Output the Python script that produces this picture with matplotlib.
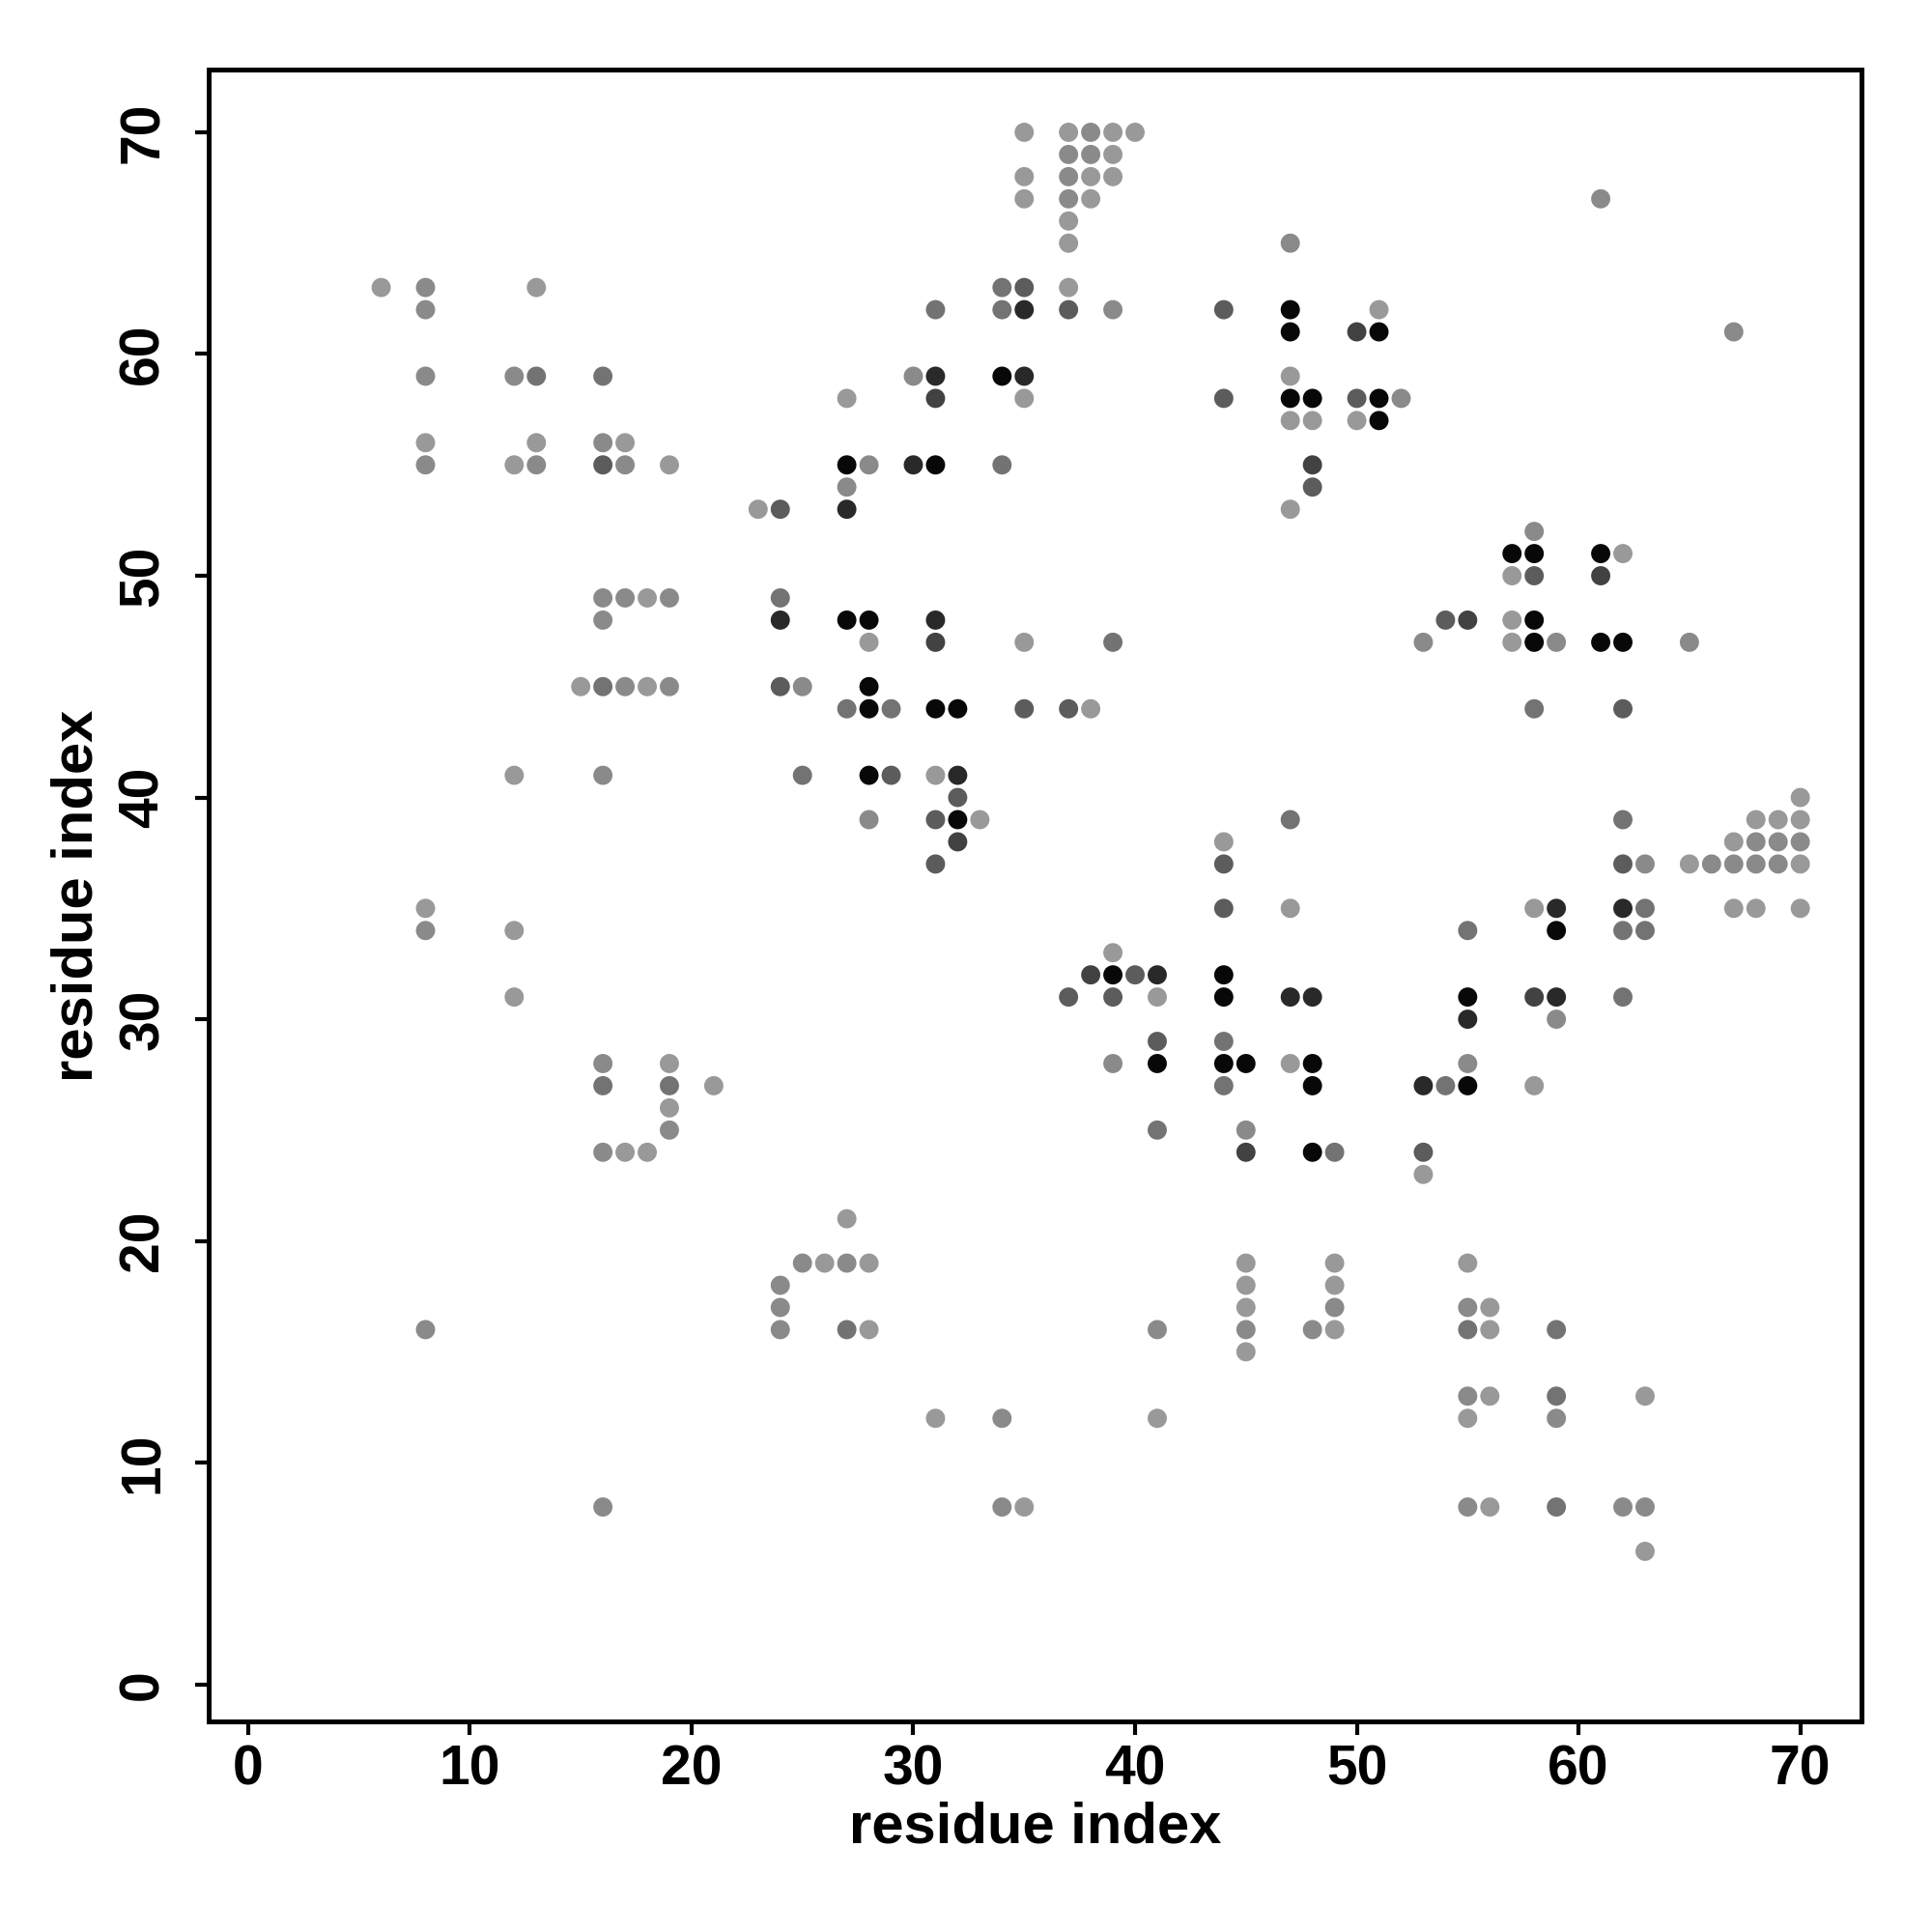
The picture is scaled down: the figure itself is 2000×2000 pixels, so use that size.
import matplotlib
matplotlib.use("Agg")
import matplotlib.pyplot as plt
import numpy as np

# contact level: 1 = lightest ... 7 = black
# each row: residue j (y) -> list of (residue i, level)
rows = {
    70: [(35, 1), (37, 1), (38, 2), (39, 1), (40, 1)],
    69: [(37, 2), (38, 2), (39, 1)],
    68: [(35, 1), (37, 2), (38, 1), (39, 1)],
    67: [(35, 1), (37, 2), (38, 1), (61, 2)],
    66: [(37, 1)],
    65: [(37, 1), (47, 2)],
    63: [(6, 1), (8, 2), (13, 1), (34, 3), (35, 4), (37, 1)],
    62: [(8, 2), (31, 3), (34, 3), (35, 6), (37, 4), (39, 2), (44, 4), (47, 7), (51, 1)],
    61: [(47, 7), (50, 5), (51, 7), (67, 2)],
    59: [(8, 2), (12, 2), (13, 3), (16, 3), (30, 2), (31, 6), (34, 7), (35, 6), (47, 1)],
    58: [(27, 1), (31, 5), (35, 1), (44, 4), (47, 7), (48, 7), (50, 4), (51, 7), (52, 2)],
    57: [(47, 1), (48, 1), (50, 1), (51, 7)],
    56: [(8, 1), (13, 1), (16, 2), (17, 1)],
    55: [(8, 2), (12, 1), (13, 2), (16, 4), (17, 2), (19, 1), (27, 7), (28, 2), (30, 6),
         (31, 7), (34, 3), (48, 5)],
    54: [(27, 2), (48, 4)],
    53: [(23, 1), (24, 4), (27, 6), (47, 1)],
    52: [(58, 2)],
    51: [(57, 7), (58, 7), (61, 7), (62, 1)],
    50: [(57, 1), (58, 4), (61, 5)],
    49: [(16, 2), (17, 2), (18, 1), (19, 2), (24, 3)],
    48: [(16, 2), (24, 6), (27, 7), (28, 7), (31, 6), (54, 4), (55, 5), (57, 1), (58, 7)],
    47: [(28, 1), (31, 5), (35, 1), (39, 3), (53, 2), (57, 1), (58, 7), (59, 2), (61, 7),
         (62, 7), (65, 2)],
    45: [(15, 1), (16, 3), (17, 2), (18, 1), (19, 2), (24, 4), (25, 2), (28, 7)],
    44: [(27, 3), (28, 7), (29, 3), (31, 7), (32, 7), (35, 4), (37, 4), (38, 1), (58, 3),
         (62, 4)],
    41: [(12, 1), (16, 2), (25, 3), (28, 7), (29, 4), (31, 1), (32, 6)],
    40: [(32, 4), (70, 1)],
    39: [(28, 2), (31, 4), (32, 7), (33, 1), (47, 3), (62, 3), (68, 1), (69, 1), (70, 1)],
    38: [(32, 5), (44, 1), (67, 1), (68, 2), (69, 2), (70, 2)],
    37: [(31, 4), (44, 4), (62, 4), (63, 2), (65, 1), (66, 2), (67, 2), (68, 2), (69, 2),
         (70, 1)],
    35: [(8, 1), (44, 4), (47, 1), (58, 1), (59, 6), (62, 6), (63, 3), (67, 1), (68, 1),
         (70, 1)],
    34: [(8, 2), (12, 1), (55, 3), (59, 7), (62, 3), (63, 3)],
    33: [(39, 1)],
    32: [(38, 5), (39, 7), (40, 4), (41, 6), (44, 7)],
    31: [(12, 1), (37, 4), (39, 4), (41, 1), (44, 7), (47, 6), (48, 6), (55, 7), (58, 5),
         (59, 6), (62, 3)],
    30: [(55, 6), (59, 2)],
    29: [(41, 4), (44, 3)],
    28: [(16, 2), (19, 1), (39, 2), (41, 7), (44, 7), (45, 7), (47, 1), (48, 7), (55, 2)],
    27: [(16, 3), (19, 3), (21, 1), (44, 3), (48, 7), (53, 6), (54, 3), (55, 7), (58, 1)],
    26: [(19, 1)],
    25: [(19, 2), (41, 3), (45, 2)],
    24: [(16, 2), (17, 1), (18, 1), (45, 5), (48, 7), (49, 3), (53, 4)],
    23: [(53, 1)],
    21: [(27, 1)],
    19: [(25, 2), (26, 1), (27, 2), (28, 1), (45, 1), (49, 1), (55, 1)],
    18: [(24, 2), (45, 1), (49, 1)],
    17: [(24, 2), (45, 1), (49, 2), (55, 2), (56, 1)],
    16: [(8, 2), (24, 2), (27, 3), (28, 1), (41, 2), (45, 2), (48, 2), (49, 1), (55, 3),
         (56, 1), (59, 3)],
    15: [(45, 1)],
    13: [(55, 2), (56, 1), (59, 3), (63, 1)],
    12: [(31, 1), (34, 2), (41, 1), (55, 1), (59, 2)],
    8: [(16, 2), (34, 2), (35, 1), (55, 2), (56, 1), (59, 3), (62, 2), (63, 2)],
    6: [(63, 1)],
}

residue_i = [i for j, pts in rows.items() for i, _ in pts]
residue_j = [j for j, pts in rows.items() for _ in pts]
level = [lv for j, pts in rows.items() for _, lv in pts]

x_ticks = [0, 10, 20, 30, 40, 50, 60, 70]
y_ticks = [0, 10, 20, 30, 40, 50, 60, 70]

# grey value for each level (1 lightest .. 7 black)
grey_of_level = {1: 0.60, 2: 0.54, 3: 0.45, 4: 0.36, 5: 0.26, 6: 0.16, 7: 0.03}
colors = [str(grey_of_level[lv]) for lv in level]

plt.rcParams['font.family'] = ['Liberation Sans', 'DejaVu Sans']

fig = plt.figure(figsize=(20, 20), dpi=100)
ax = fig.add_axes([0.108, 0.109, 0.9635 - 0.108, 0.964 - 0.109])
ax.scatter(residue_i, residue_j, s=205, c=colors, edgecolors='none', zorder=3)

ax.set_xlim(-1.78, 72.76)
ax.set_ylim(-1.67, 72.83)
ax.set_xticks(x_ticks)
ax.set_yticks(y_ticks)
ax.set_xticklabels([str(t) for t in x_ticks], fontsize=41, fontweight='bold')
ax.set_yticklabels([str(t) for t in y_ticks], fontsize=41, fontweight='bold',
                   rotation=90, va='center')
ax.tick_params(axis='x', direction='out', length=10, width=3, pad=7)
ax.tick_params(axis='y', direction='out', length=10, width=3, pad=19)
for sp in ax.spines.values():
    sp.set_linewidth(3.6)

fig.text(0.5 * (0.108 + 0.9635), 1 - 1892 / 2000, 'residue index', fontsize=43,
         fontweight='bold', ha='center', va='center')
fig.text(80 / 2000, 0.5 * (0.109 + 0.964), 'residue index', fontsize=43,
         fontweight='bold', ha='center', va='center', rotation=90)

fig.savefig('out.png', dpi=100, facecolor='white')
